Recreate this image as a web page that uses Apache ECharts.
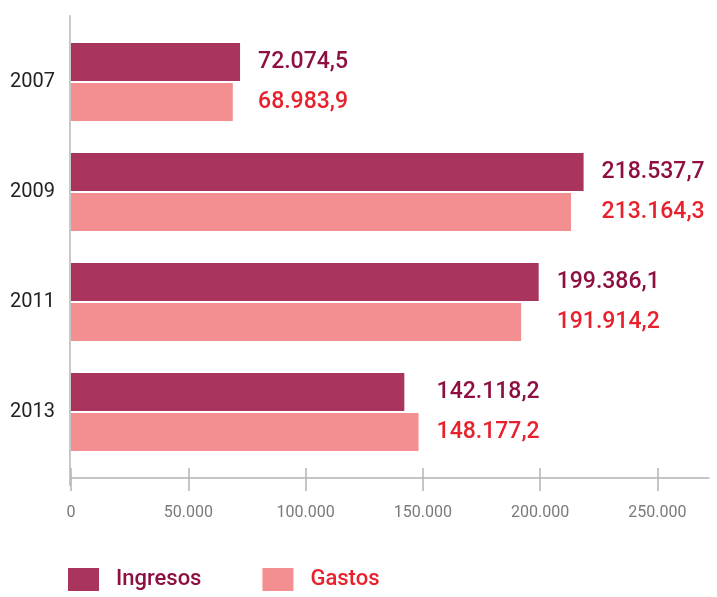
<!DOCTYPE html>
<html>
<head>
<meta charset="utf-8">
<script src="https://cdn.jsdelivr.net/npm/echarts@6/dist/echarts.min.js"></script>
<style>
  html, body { margin: 0; padding: 0; background: #fff; }
  #chart { width: 717px; height: 597px; }
</style>
</head>
<body>
<div id="chart"></div>
<script>
// data
const years = ['2007', '2009', '2011', '2013']
const ingresos = [72074.5, 218537.7, 199386.1, 142118.2]
const gastos = [68983.9, 213164.3, 191914.2, 148177.2]
const xTicks = [0, 50000, 100000, 150000, 200000, 250000]

const FONT = 'Roboto, "Liberation Sans", sans-serif'
const C_ING = '#a9355f'
const C_GAS = '#f48f91'
const T_ING = '#8e1043'
const T_GAS = '#e8222d'

// 72074.5 -> 72.074,5
const fmt = v => {
  const p = v.toFixed(1).split('.')
  return p[0].replace(/\B(?=(\d{3})+(?!\d))/g, '.') + ',' + p[1]
}
const fmtInt = v => String(Math.round(v)).replace(/\B(?=(\d{3})+(?!\d))/g, '.')

const chart = echarts.init(document.getElementById('chart'), null, { renderer: 'canvas' })

const valueLabel = color => ({
  show: true,
  position: 'right',
  distance: 18,
  color: color,
  fontFamily: FONT,
  fontWeight: 500,
  fontSize: 23,
  formatter: p => fmt(p.value)
})

const tickStyle = { color: '#b4b4b8', width: 1.5 }

chart.setOption({
  animation: false,
  backgroundColor: '#fff',
  grid: [
    { left: 71, top: 27, height: 440, right: 8 },
    { left: 70, top: 16, height: 469, right: 8 }
  ],
  legend: {
    left: 63,
    top: 563,
    itemWidth: 31,
    itemHeight: 23,
    itemGap: 61,
    icon: 'rect',
    textStyle: { fontFamily: FONT, fontWeight: 500, fontSize: 22, padding: [0, 0, 0, 12] },
    data: [
      { name: 'Ingresos', textStyle: { color: T_ING } },
      { name: 'Gastos', textStyle: { color: T_GAS } }
    ]
  },
  xAxis: [
    {
      type: 'value',
      gridIndex: 0,
      position: 'bottom',
      min: 0,
      max: 272000,
      interval: 50000,
      offset: 11,
      splitLine: { show: false },
      axisLine: { show: true, lineStyle: tickStyle },
      axisTick: { show: true, length: 13, customValues: xTicks, lineStyle: tickStyle },
      axisLabel: {
        customValues: xTicks,
        margin: 27,
        color: '#7a7a7a',
        fontFamily: FONT,
        fontSize: 16,
        formatter: v => fmtInt(v)
      }
    },
    {
      // upper half of the crossing ticks
      type: 'value',
      gridIndex: 0,
      position: 'bottom',
      min: 0,
      max: 272000,
      interval: 50000,
      offset: 11,
      splitLine: { show: false },
      axisLine: { show: false },
      axisTick: { show: true, inside: true, length: 10, customValues: xTicks, lineStyle: tickStyle },
      axisLabel: { show: false }
    },
    { type: 'value', gridIndex: 1, show: false }
  ],
  yAxis: [
    {
      type: 'category',
      gridIndex: 0,
      data: years,
      inverse: true,
      axisLine: { show: false },
      axisTick: { show: false },
      axisLabel: { margin: 16, color: '#222', fontFamily: FONT, fontSize: 20, padding: [6, 0, 0, 0] }
    },
    {
      // the long vertical axis line
      type: 'value',
      gridIndex: 1,
      min: 0,
      max: 1,
      axisLine: { show: true, onZero: false, lineStyle: { color: '#c8c8c8', width: 2 } },
      axisTick: { show: false },
      axisLabel: { show: false },
      splitLine: { show: false }
    }
  ],
  series: [
    {
      name: 'Ingresos',
      type: 'bar',
      xAxisIndex: 0,
      yAxisIndex: 0,
      data: ingresos,
      barWidth: 38,
      barGap: '5%',
      itemStyle: { color: C_ING },
      label: valueLabel(T_ING)
    },
    {
      name: 'Gastos',
      type: 'bar',
      xAxisIndex: 0,
      yAxisIndex: 0,
      data: gastos,
      barWidth: 38,
      barGap: '5%',
      itemStyle: { color: C_GAS },
      label: valueLabel(T_GAS)
    }
  ]
})

// both labels of a year start at the same x, just past the longer bar
const px = v => chart.convertToPixel({ xAxisIndex: 0 }, v)
const aligned = values => values.map((v, i) => ({
  value: v,
  label: { distance: px(Math.max(ingresos[i], gastos[i])) - px(v) + 18 }
}))
chart.setOption({
  series: [
    { name: 'Ingresos', data: aligned(ingresos) },
    { name: 'Gastos', data: aligned(gastos) }
  ]
})
</script>
</body>
</html>
